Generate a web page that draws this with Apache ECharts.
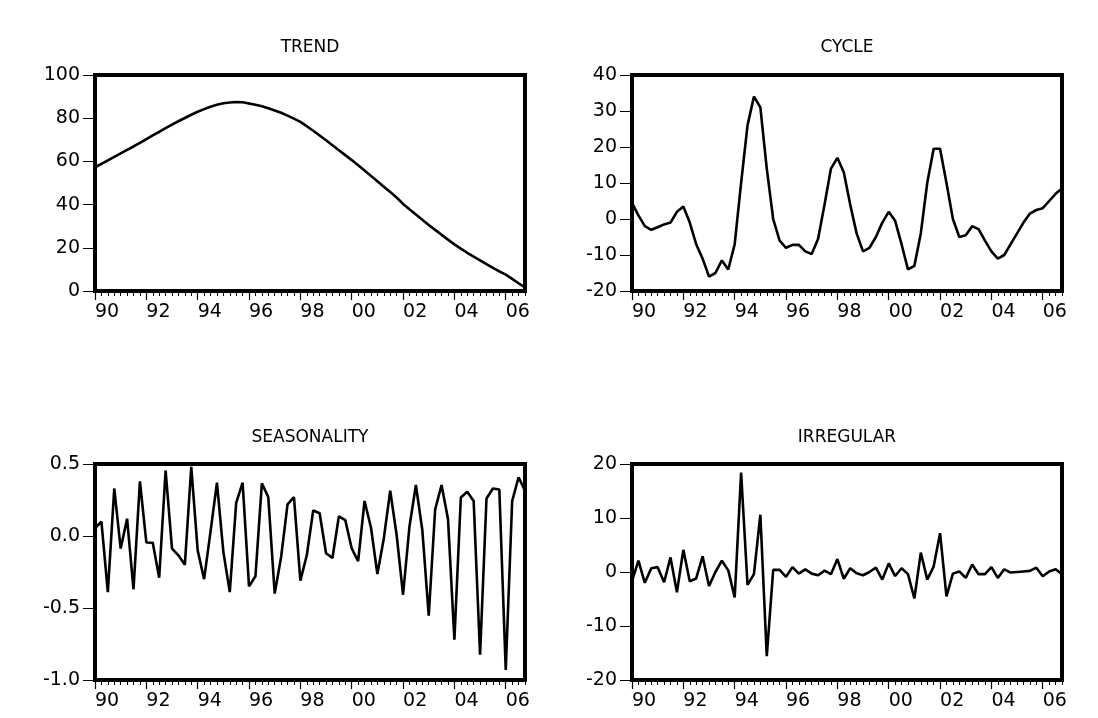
<!DOCTYPE html>
<html>
<head>
<meta charset="utf-8">
<script src="https://cdn.jsdelivr.net/npm/echarts@6/dist/echarts.min.js"></script>
<style>html,body{margin:0;padding:0;background:#fff}#c{width:1098px;height:718px}</style>
</head>
<body>
<div id="c"></div>
<script>
// Quarterly observations 1990Q1 .. 2006Q4 (68 quarters)
const startYear = 1990, nQuarters = 68;
const categories = [];
for (let i = 0; i < nQuarters; i++) categories.push((startYear + Math.floor(i / 4)) + 'Q' + (i % 4 + 1));
const tickLabels = ['90','92','94','96','98','00','02','04','06'];

const trend = [
  57.3,58.9,60.5,62.1, 63.7,65.3,66.9,68.6, 70.3,72.0,73.7,75.4, 77.0,78.6,80.1,81.6,
  83.0,84.2,85.3,86.2, 86.9,87.3,87.5,87.4, 86.8,86.2,85.5,84.6, 83.6,82.5,81.2,79.8,
  78.3,76.3,74.2,72.0, 69.8,67.5,65.2,62.9, 60.6,58.2,55.8,53.3, 50.8,48.3,45.8,43.3,
  40.3,37.8,35.4,33.0, 30.6,28.3,26.0,23.8, 21.6,19.6,17.7,15.9, 14.2,12.4,10.7,9.1,
  7.6,5.6,3.6,1.6
];
const cycle = [
  4.5,1,-2,-3, -2.3,-1.5,-1,2, 3.5,-1,-7,-11, -16,-15,-11.5,-14,
  -7,10,26,34, 31,14,0,-6, -8,-7.2,-7.2,-9, -9.7,-5.5,4,14,
  17,13,4,-4, -9,-8,-5,-1, 2,-0.5,-7,-14, -13,-4,10,19.5,
  19.5,10,0,-5, -4.5,-2,-2.8,-6, -9,-11,-10,-7, -4,-1,1.5,2.5,
  3,5,7,8.5
];
const seasonality = [
  0.054,0.10,-0.39,0.33, -0.087,0.12,-0.37,0.38, -0.045,-0.047,-0.29,0.455, -0.087,-0.134,-0.20,0.48,
  -0.10,-0.30,0.03,0.37, -0.11,-0.39,0.23,0.37, -0.35,-0.28,0.366,0.27, -0.40,-0.146,0.22,0.27,
  -0.31,-0.134,0.177,0.158, -0.12,-0.153,0.137,0.11, -0.087,-0.175,0.243,0.059, -0.264,-0.017,0.314,0.007,
  -0.408,0.066,0.354,0.042, -0.554,0.184,0.354,0.118, -0.72,0.267,0.307,0.243, -0.825,0.26,0.33,0.323,
  -0.93,0.243,0.408,0.314
];
const irregular = [
  -1.7,2.1,-2,0.7, 0.9,-1.9,2.7,-3.75, 4.1,-1.7,-1.2,2.9, -2.6,0,2.1,0.3,
  -4.7,18.4,-2.4,-0.4, 10.6,-15.6,0.4,0.4, -0.9,0.9,-0.3,0.5, -0.3,-0.6,0.25,-0.4,
  2.4,-1.25,0.7,-0.25, -0.6,0,0.8,-1.4, 1.6,-0.75,0.7,-0.4, -4.9,3.6,-1.4,1,
  7.2,-4.5,-0.3,0.1, -1.1,1.4,-0.4,-0.4, 0.9,-1.1,0.5,-0.1, 0,0.1,0.2,0.8,
  -0.8,0.1,0.5,-0.4
];

const panels = [
  {title:'TREND', data:trend, min:0, max:100, interval:20, dec:0},
  {title:'CYCLE', data:cycle, min:-20, max:40, interval:10, dec:0},
  {title:'SEASONALITY', data:seasonality, min:-1, max:0.5, interval:0.5, dec:1},
  {title:'IRREGULAR', data:irregular, min:-20, max:20, interval:10, dec:0}
];
const grids = [
  {left:95, top:75, width:430, height:216},
  {left:632, top:75, width:430, height:216},
  {left:95, top:464, width:430, height:216},
  {left:632, top:464, width:430, height:216}
];
const FONT = '"DejaVu Sans", Verdana, sans-serif';
const FS = 19;

const option = {animation:false, backgroundColor:'#fff', grid:[], xAxis:[], yAxis:[], series:[], graphic:[]};
panels.forEach((p, k) => {
  const g = grids[k];
  option.grid.push({left:g.left, top:g.top, width:g.width, height:g.height, show:true,
    borderColor:'#000', borderWidth:4, backgroundColor:'#fff', containLabel:false});
  // major axis with labels every two years
  option.xAxis.push({type:'category', gridIndex:k, position:'bottom', data:categories, boundaryGap:false,
    axisLine:{show:false, onZero:false},
    axisTick:{show:true, inside:false, length:9, interval:(i)=> i % 8 === 0, lineStyle:{color:'#000', width:1.2}},
    axisLabel:{show:true, interval:(i)=> i % 8 === 0, formatter:(v,i)=> tickLabels[Math.floor(i/8)],
      align:'left', margin:12, color:'#000', fontSize:FS, fontFamily:FONT},
    splitLine:{show:false}});
  // quarterly minor ticks
  option.xAxis.push({type:'category', gridIndex:k, position:'bottom', data:categories, boundaryGap:false,
    axisLine:{show:false, onZero:false},
    axisTick:{show:true, inside:false, length:5, interval:0, lineStyle:{color:'#000', width:1}},
    axisLabel:{show:false}, splitLine:{show:false}});
  option.yAxis.push({type:'value', gridIndex:k, min:p.min, max:p.max, interval:p.interval,
    axisLine:{show:false, onZero:false},
    axisTick:{show:true, inside:false, length:12, lineStyle:{color:'#000', width:1}},
    axisLabel:{color:'#000', fontSize:FS, fontFamily:FONT, margin:15,
      formatter:(v)=> Number(v).toFixed(p.dec)},
    splitLine:{show:false}});
  option.series.push({type:'line', xAxisIndex:2*k, yAxisIndex:k, data:p.data, symbol:'none',
    lineStyle:{color:'#000', width:2.6}, z:1, clip:true});
  option.graphic.push({type:'text', x:g.left + g.width/2, y:(k<2? 48 : 438),
    style:{text:p.title, fill:'#000', font:'17px ' + FONT, textAlign:'center', textVerticalAlign:'middle'}});
});

const chart = echarts.init(document.getElementById('c'));
chart.setOption(option);
</script>
</body>
</html>
